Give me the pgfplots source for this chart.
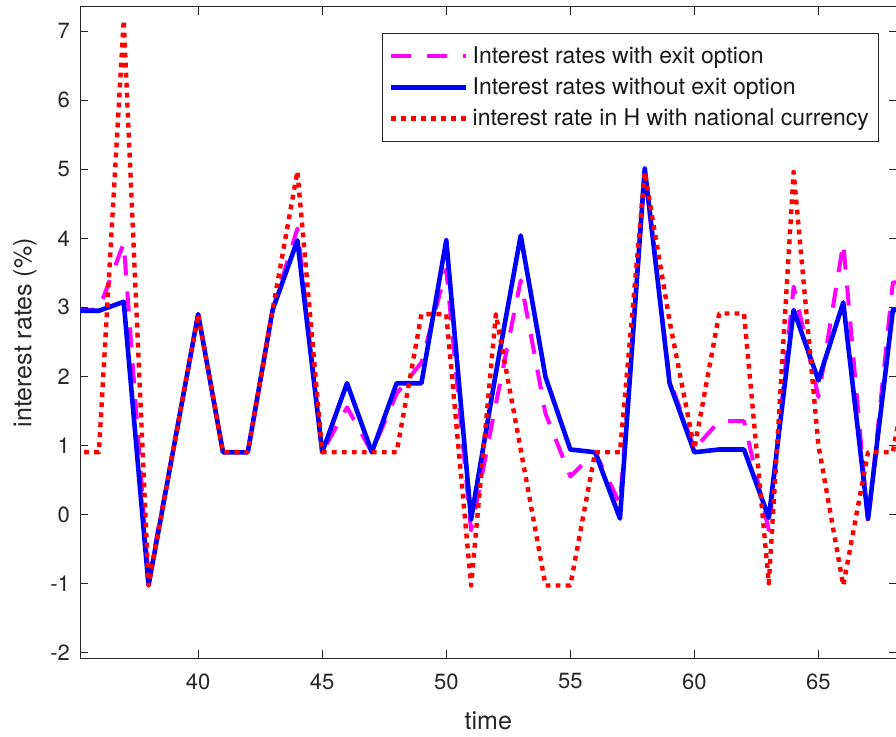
\documentclass[border=0pt]{standalone}
\usepackage{pgfplots}
\pgfplotsset{compat=1.18}
\usepackage{pgfplotstable}
\usepackage{fontspec}
\setmainfont{TeX Gyre Heros}

\pgfplotstableread{
t  withexit without national
35 2.95  2.95  0.90
36 2.97  2.95  0.90
37 3.93  3.08  7.16
38 -0.95 -1.03 -1.03
39 0.95  0.94  0.94
40 2.90  2.90  2.90
41 0.90  0.90  0.90
42 0.90  0.90  0.90
43 2.96  2.96  2.96
44 4.14  3.97  4.97
45 0.90  0.90  0.90
46 1.55  1.90  0.90
47 0.90  0.90  0.90
48 1.75  1.90  0.90
49 2.20  1.90  2.90
50 3.55  3.97  2.90
51 -0.23 -0.07 -1.03
52 1.60  2.05  2.90
53 3.39  4.04  0.94
54 1.46  1.99  -1.03
55 0.55  0.94  -1.03
56 0.90  0.90  0.90
57 0.15  -0.06 0.90
58 4.95  5.01  4.96
59 1.95  1.90  2.80
60 0.95  0.90  0.95
61 1.35  0.94  2.91
62 1.35  0.94  2.91
63 -0.23 -0.05 -1.00
64 3.30  2.96  4.96
65 1.70  1.94  1.00
66 3.93  3.07  -1.03
67 -0.13 -0.06 0.90
68 3.36  2.96  0.90
69 3.36  2.96  2.90
}\datatable

\definecolor{axgray}{gray}{0.15}
\definecolor{mmag}{rgb}{1,0,1}
\definecolor{mblue}{rgb}{0,0,1}
\definecolor{mred}{rgb}{1,0,0}

\begin{document}
\begin{tikzpicture}
\begin{axis}[
  scale only axis,
  width=408pt, height=325.5pt,
  xmin=35.24, xmax=68.15,
  ymin=-2.087, ymax=7.35,
  xtick={40,45,50,55,60,65},
  ytick={-2,-1,0,1,2,3,4,5,6,7},
  /pgf/number format/assume math mode=true,
  tick align=inside,
  major tick length=4pt,
  axis line style={axgray, line width=0.5pt},
  every tick/.style={axgray, line width=0.5pt},
  tick label style={font=\fontsize{11}{13}\selectfont, text=axgray},
  xticklabel style={yshift=-4pt},
  yticklabel style={xshift=-1.5pt},
  xlabel={time},
  ylabel={interest rates (\%)},
  label style={font=\fontsize{12.5}{15}\selectfont, text=axgray},
  xlabel style={at={(axis description cs:0.5,0)}, anchor=center, yshift=-31pt},
  ylabel style={at={(axis description cs:-0.0674,0.5)}, anchor=center, rotate=0},
  legend style={at={(rel axis cs:0.979,0.96)}, anchor=north east,
    draw=axgray, line width=0.5pt, fill=white,
    font=\fontsize{11.5}{13}\selectfont, text=black!90,
    inner xsep=3pt, inner ysep=4.5pt, row sep=1.6pt,
    cells={anchor=west}},
  legend image code/.code={\draw[#1] (0pt,0pt) -- (37.5pt,0pt);},
  clip=true,
]
\addplot[mmag, line width=2pt, line join=round, dash pattern=on 10pt off 8pt] table[x=t,y=withexit] {\datatable};
\addlegendentry{Interest rates with exit option}
\addplot[mblue, line width=2.3pt, line join=round] table[x=t,y=without] {\datatable};
\addlegendentry{Interest rates without exit option}
\addplot[mred, line width=2.2pt, line join=round, dash pattern=on 2.4pt off 2.6pt] table[x=t,y=national] {\datatable};
\addlegendentry{interest rate in H with national currency}
\coordinate (BL) at (rel axis cs:0,0);
\coordinate (TR) at (rel axis cs:1,1);
\end{axis}
\pgfresetboundingbox
\path[use as bounding box] ([xshift=-40pt,yshift=-39pt]BL) rectangle ([xshift=-0.3pt,yshift=3.5pt]TR);
\end{tikzpicture}
\end{document}
